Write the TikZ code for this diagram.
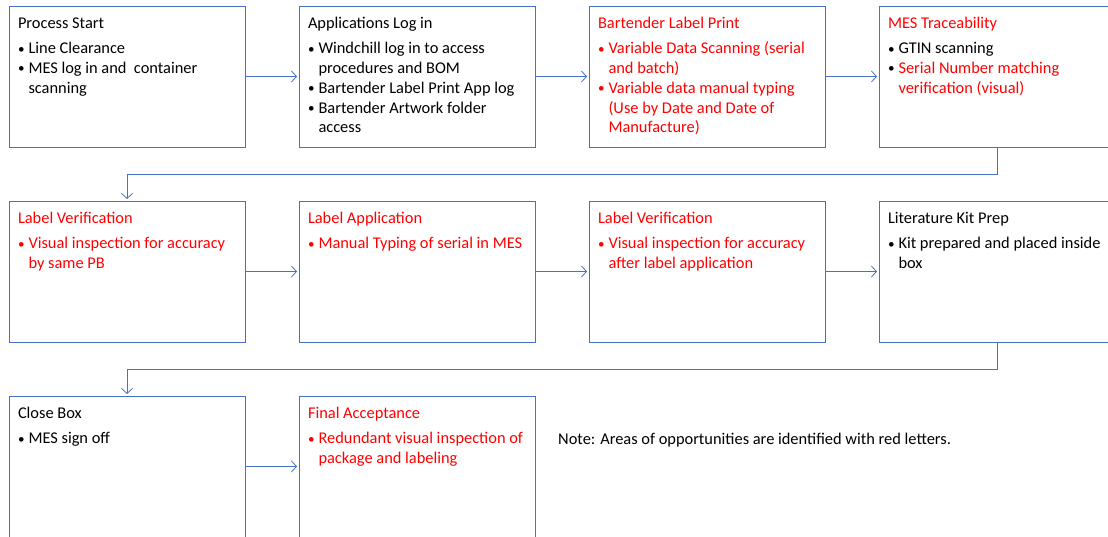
\documentclass[tikz,border=0pt]{standalone}
\usepackage{fontspec}
\setmainfont{Carlito}
\usetikzlibrary{positioning,arrows.meta}
\definecolor{lineblue}{HTML}{4472C4}
\definecolor{oppred}{RGB}{255,0,0}

% box contents: title line, then bullets
\newcommand{\boxtext}[1]{\parbox[t][123pt][t]{218pt}{\raggedright\strut#1}}
\newcommand{\bul}{\makebox[10.5pt][l]{\raisebox{0.6pt}{\scalebox{0.8}{\textbullet}}}}
\newcommand{\bitem}[1]{\\[5pt]\bul#1}
\newcommand{\nitem}[1]{\\\bul#1}
\newcommand{\cont}[1]{\\\hspace*{10.5pt}#1}

\tikzset{
	stepbox/.style={draw=lineblue, line width=0.8pt, rectangle, inner xsep=9pt, inner ysep=9pt, outer sep=0pt,
		font=\fontsize{16.4pt}{19.8pt}\selectfont},
	flow/.style={draw=lineblue, line width=0.8pt, -{Straight Barb[length=5pt,width=11pt]}, shorten >=2pt}
}

\begin{document}
\begin{tikzpicture}
			
			\clip (0,0) rectangle (1108pt,-537pt);
			
			% Row 1
			\node[stepbox, anchor=north west] at (9pt,-6pt) (start) {\boxtext{Process Start
				\bitem{Line Clearance}
				\nitem{MES log in and\ \ container}
				\cont{scanning}}};
			\node[stepbox, right=54pt of start] (login) {\boxtext{Applications Log in
				\bitem{Windchill log in to access}
				\cont{procedures and BOM}
				\nitem{Bartender Label Print App log}
				\nitem{Bartender Artwork folder}
				\cont{access}}};
			\node[stepbox, right=54pt of login, text=oppred] (print) {\boxtext{Bartender Label Print
				\bitem{Variable Data Scanning (serial}
				\cont{and batch)}
				\nitem{Variable data manual typing}
				\cont{(Use by Date and Date of}
				\cont{Manufacture)}}};
			\node[stepbox, right=54pt of print] (trace) {\boxtext{\textcolor{oppred}{MES Traceability}
				\bitem{GTIN scanning}
				\nitem{\textcolor{oppred}{Serial Number matching}}
				\cont{\textcolor{oppred}{verification (visual)}}}};
			
			% Row 2
			\node[stepbox, below=54pt of start, text=oppred] (verify) {\boxtext{Label Verification
				\bitem{Visual inspection for accuracy}
				\cont{by same PB}}};
			\node[stepbox, right=54pt of verify, text=oppred] (apply) {\boxtext{Label Application
				\bitem{Manual Typing of serial in MES}}};
			\node[stepbox, right=54pt of apply, text=oppred] (reverify) {\boxtext{Label Verification
				\bitem{Visual inspection for accuracy}
				\cont{after label application}}};
			\node[stepbox, right=54pt of reverify] (kit) {\boxtext{Literature Kit Prep
				\bitem{Kit prepared and placed inside}
				\cont{box}}};
			
			% Row 3
			\node[stepbox, below=54pt of verify] (close) {\boxtext{Close Box
				\bitem{MES sign off}}};
			\node[stepbox, right=54pt of close, text=oppred] (accept) {\boxtext{Final Acceptance
				\bitem{Redundant visual inspection of}
				\cont{package and labeling}}};
			
			\node[anchor=west, inner sep=0pt, font=\fontsize{16.4pt}{19.8pt}\selectfont] at (558pt,-440pt) (note)
				{Note: Areas of opportunities are identified with red letters.};
			
			% Connect the boxes
			\draw[flow] (start.east) -- (login.west);
			\draw[flow] (login.east) -- (print.west);
			\draw[flow] (print.east) -- (trace.west);
			\draw[flow] (trace.south) -- ++(0,-27pt) -| (verify.north);
			\draw[flow] (verify.east) -- (apply.west);
			\draw[flow] (apply.east) -- (reverify.west);
			\draw[flow] (reverify.east) -- (kit.west);
			\draw[flow] (kit.south) -- ++(0,-27pt) -| (close.north);
			\draw[flow] (close.east) -- (accept.west);
			
\end{tikzpicture}
\end{document}
